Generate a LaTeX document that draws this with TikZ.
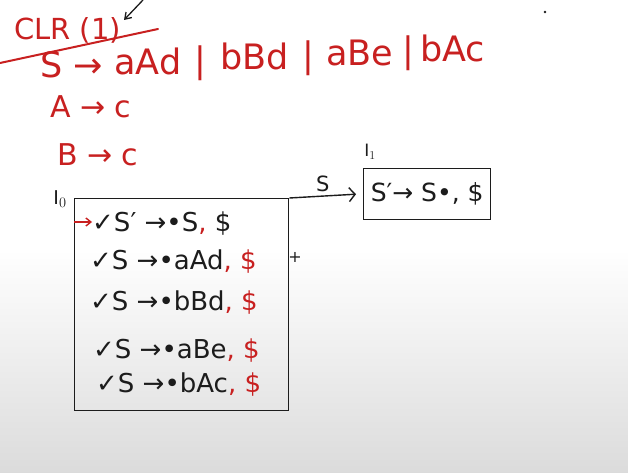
\documentclass[tikz,border=0pt]{standalone}
\usepackage{fontspec}
\setmainfont{DejaVu Sans}
\usetikzlibrary{arrows.meta}
\definecolor{ink}{RGB}{200,32,32}
\definecolor{pen}{RGB}{28,28,28}
\tikzset{
  redtxt/.style={text=ink, inner sep=0pt, anchor=base west},
  gram/.style={redtxt, font=\fontsize{35}{35}\selectfont},
  rowtxt/.style={text=pen, inner sep=0pt, anchor=base west, font=\fontsize{26}{26}\selectfont},
  statebox/.style={draw=pen, line width=1.4pt, inner sep=0pt},
  lbl/.style={text=pen, inner sep=0pt, font=\fontsize{19}{19}\selectfont},
}
\begin{document}
\begin{tikzpicture}[x=1pt,y=-1pt]
\useasboundingbox (0,0) rectangle (628,473);
\fill[white] (0,0) rectangle (628,250);
\shade[top color=white, bottom color=black!14] (0,249) rectangle (628,473);
% title
\node[redtxt, font=\fontsize{29}{29}\selectfont] (title) at (14,40) {CLR (1)};
\coordinate (ulA) at (0,63);
\coordinate (ulB) at (158,29);
\draw[ink, line width=2pt, line cap=round] (ulA) -- (ulB);
\coordinate (pA) at (143,0);
\coordinate (pB) at (124,20);
\draw[pen, line width=1.3pt, -{Straight Barb[length=6pt,width=8pt]}] (pA) -- (pB);
\fill[pen] (545,12) circle (1.3pt);
% grammar
\node[gram] (g1a) at (40,78) {S →};
\node[gram] (g1b) at (114,75) {aAd};
\node[gram] (g1c) at (194,73) {|};
\node[gram] (g1d) at (220,70) {bBd};
\node[gram] (g1e) at (302,68) {|};
\node[gram] (g1f) at (326,66) {aBe};
\node[gram] (g1g) at (402,63) {|};
\node[gram] (g1h) at (420,62) {bAc};
\node[redtxt, font=\fontsize{30}{30}\selectfont] (g2) at (50,118) {A → c};
\node[redtxt, font=\fontsize{30}{30}\selectfont] (g3) at (57,165) {B → c};
% state I0
\node[statebox, minimum width=214pt, minimum height=212pt, anchor=north west] (I0) at (74,198) {};
\node[lbl] (l0) at (60,199) {I$_0$};
\node[rowtxt] (r1) at (92,231) {✓S′ →•S\textcolor{ink}{,} \$};
\node[rowtxt] (r2) at (90,269) {✓S →•aAd\textcolor{ink}{, \$}};
\node[rowtxt] (r3) at (90,310) {✓S →•bBd\textcolor{ink}{, \$}};
\node[rowtxt] (r4) at (93,358) {✓S →•aBe\textcolor{ink}{, \$}};
\node[rowtxt] (r5) at (96,392) {✓S →•bAc\textcolor{ink}{, \$}};
\node[text=pen, font=\fontsize{16}{16}\selectfont, inner sep=0pt] (plus) at (295,257) {+};
\coordinate (in0) at (74,222);
\draw[ink, line width=1.4pt, -{Straight Barb[length=5pt,width=8pt]}] (in0) -- (r1.west |- in0);
% state I1
\node[statebox, minimum width=127pt, minimum height=51pt, anchor=north west] (I1) at (363,168) {};
\node[text=pen, font=\fontsize{25}{25}\selectfont, inner sep=0pt] (c1) at (I1.center) {S′→ S•, \$};
\node[lbl, font=\fontsize{17}{17}\selectfont] (l1) at (370,152) {I$_1$};
% transition
\draw[pen, line width=1.4pt, -{Straight Barb[length=6pt,width=14pt]}] (I0.north east) -- ([xshift=-7pt]I1.west) node[midway, above=4pt, text=pen, font=\fontsize{21}{21}\selectfont, inner sep=0pt] (s) {S};
\end{tikzpicture}
\end{document}
